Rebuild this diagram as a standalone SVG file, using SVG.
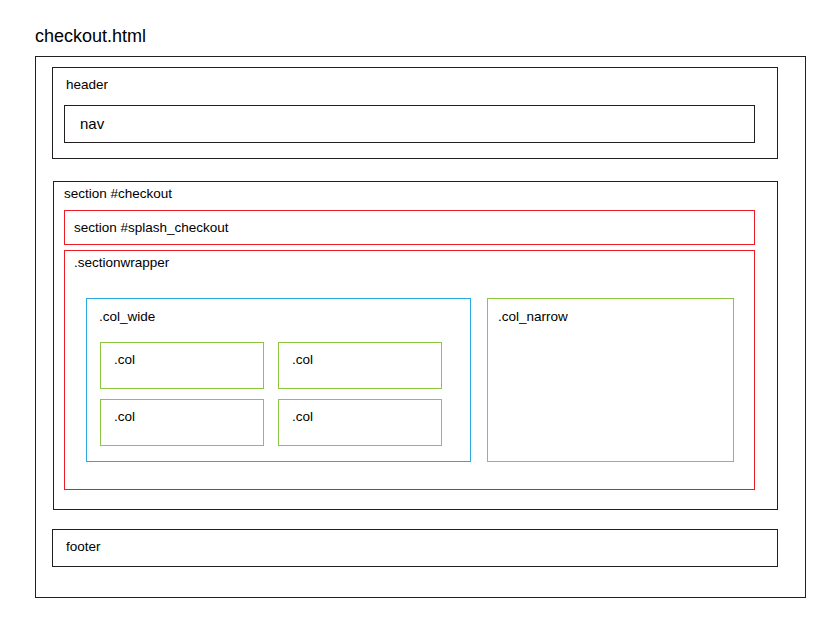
<svg xmlns="http://www.w3.org/2000/svg" width="826" height="635" viewBox="0 0 826 635">
<style>
rect{fill:none;stroke-width:1}
.k{stroke:#231f20}
.r{stroke:#ed1c24}
.b{stroke:#29abe2}
.g{stroke:#8cc63f}
text{font-family:"Liberation Sans",Arial,sans-serif;font-size:13.5px;fill:#000}
</style>
<rect x="0" y="0" width="826" height="635" style="fill:#fff;stroke:none"/>
<g id="page">
<text x="35" y="42" style="font-size:18px">checkout.html</text>
<rect class="k" x="35.5" y="56.5" width="770" height="541"/>
</g>
<g id="header">
<rect class="k" x="52.5" y="67.5" width="725" height="91"/>
<text x="66" y="89">header</text>
</g>
<g id="nav">
<rect class="k" x="64.5" y="105.5" width="690" height="37"/>
<text x="80" y="129" style="font-size:15px">nav</text>
</g>
<g id="section-checkout">
<rect class="k" x="53.5" y="181.5" width="724" height="328"/>
<text x="64" y="198">section #checkout</text>
</g>
<g id="splash-checkout">
<rect class="r" x="64.5" y="210.5" width="690" height="34"/>
<text x="74" y="232">section #splash_checkout</text>
</g>
<g id="sectionwrapper">
<rect class="r" x="64.5" y="250.5" width="690" height="239"/>
<text x="74" y="267">.sectionwrapper</text>
</g>
<g id="col-wide">
<rect class="b" x="86.5" y="298.5" width="384" height="163"/>
<text x="99" y="321">.col_wide</text>
</g>
<g id="col-narrow">
<rect class="g" x="487.5" y="298.5" width="246" height="163"/>
<text x="498" y="321">.col_narrow</text>
</g>
<g id="col1">
<rect class="g" x="100.5" y="342.5" width="163" height="46"/>
<text x="114" y="364">.col</text>
</g>
<g id="col2">
<rect class="g" x="278.5" y="342.5" width="163" height="46"/>
<text x="292" y="364">.col</text>
</g>
<g id="col3">
<rect class="g" x="100.5" y="399.5" width="163" height="46"/>
<text x="114" y="421">.col</text>
</g>
<g id="col4">
<rect class="g" x="278.5" y="399.5" width="163" height="46"/>
<text x="292" y="421">.col</text>
</g>
<g id="footer">
<rect class="k" x="52.5" y="529.5" width="725" height="37"/>
<text x="66" y="551">footer</text>
</g>
<g id="connectors"></g>
</svg>
